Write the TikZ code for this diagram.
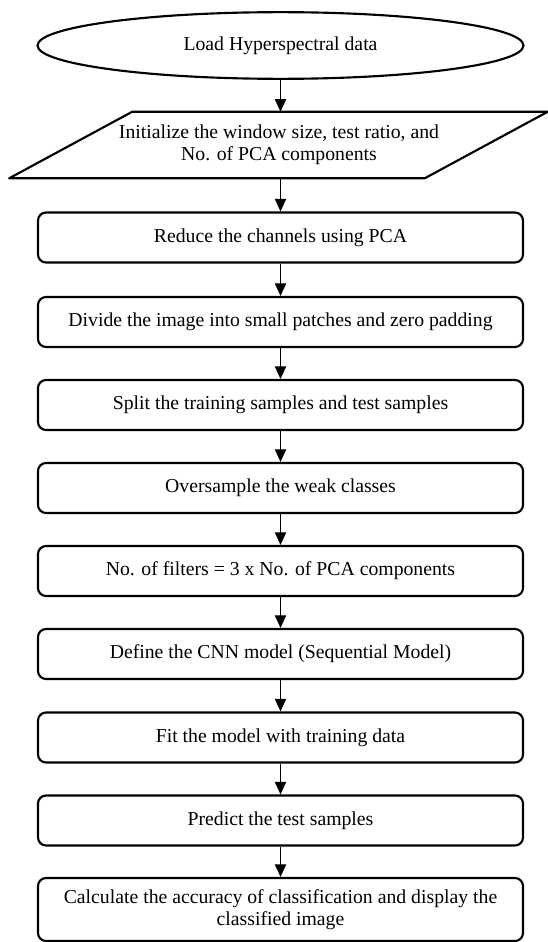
\documentclass[tikz,border=0pt]{standalone}
\usepackage{fontspec}
\setmainfont{Liberation Serif}
\usetikzlibrary{arrows.meta,shapes.geometric,calc}
\begin{document}
\begin{tikzpicture}[x=0.75pt,y=-0.75pt,
  txt/.style={align=center, font=\fontsize{14.8}{16.8}\selectfont},
  box/.style={txt, draw, rounded corners=6pt, line width=1.6pt, minimum width=363.75pt, minimum height=37.5pt, inner sep=0pt},
  startnode/.style={txt, draw, ellipse, line width=1.6pt, minimum width=364.5pt, minimum height=50pt, inner sep=0pt},
  shapeline/.style={line width=1.6pt, line join=round},
  arr/.style={line width=0.9pt, -{Triangle[length=9.5pt,width=8.5pt]}}]
\useasboundingbox (0,0) rectangle (548,942);

\node[startnode] (load) at (280.5,45.5) {Load Hyperspectral data};

\node[txt, minimum width=311.25pt, minimum height=49.5pt, inner sep=0pt] (init) at (279,145)
  {Initialize the window size, test ratio, and\\No. of PCA components};
\draw[shapeline] ($(init.south west)+(-62,0)$) -- ($(init.north west)+(61,0)$)
  -- ($(init.north east)+(61,0)$) -- ($(init.south east)+(-62,0)$) -- cycle;

\node[box] (reduce) at (280.5,237.5) {Reduce the channels using PCA};
\node[box] (divide) at (280.5,322) {Divide the image into small patches and zero padding};
\node[box] (split) at (280.5,405) {Split the training samples and test samples};
\node[box] (over) at (280.5,488) {Oversample the weak classes};
\node[box] (filters) at (280.5,571) {No. of filters = 3 x No. of PCA components};
\node[box] (cnn) at (280.5,654) {Define the CNN model (Sequential Model)};
\node[box] (fit) at (280.5,737.5) {Fit the model with training data};
\node[box] (predict) at (280.5,820.5) {Predict the test samples};
\node[box, minimum height=47.25pt] (calc) at (280.5,909.5)
  {Calculate the accuracy of classification and display the\\classified image};

\draw[arr] (load.south) -- (load.south |- init.north);
\draw[arr] (load.south |- init.south) -- (reduce.north);
\draw[arr] (reduce) -- (divide);
\draw[arr] (divide) -- (split);
\draw[arr] (split) -- (over);
\draw[arr] (over) -- (filters);
\draw[arr] (filters) -- (cnn);
\draw[arr] (cnn) -- (fit);
\draw[arr] (fit) -- (predict);
\draw[arr] (predict) -- (calc);
\end{tikzpicture}
\end{document}
